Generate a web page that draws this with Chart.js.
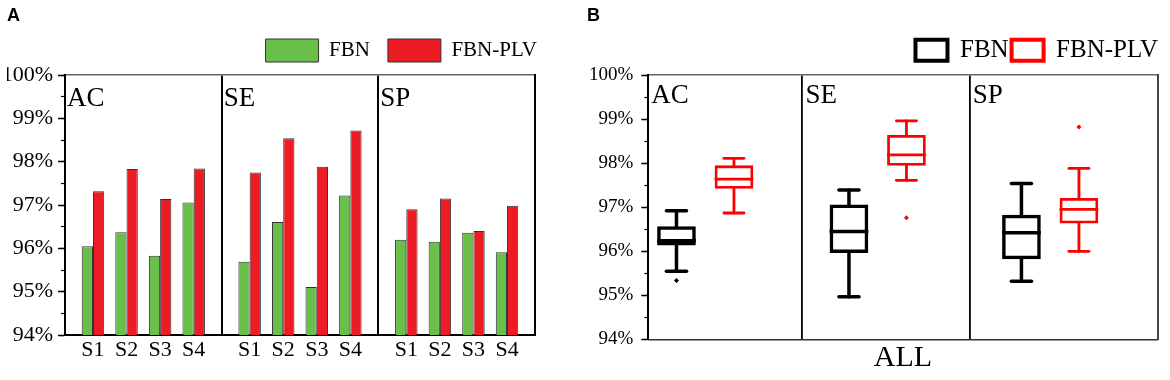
<!DOCTYPE html>
<html>
<head>
<meta charset="utf-8">
<script src="https://cdn.jsdelivr.net/npm/chart.js@4.4.0/dist/chart.umd.min.js"></script>
<style>
    html, body { margin: 0; padding: 0; background: #fff; }
    #wrap { position: relative; width: 1170px; height: 380px; }
    .panel { position: absolute; top: 0; height: 380px; }
    #panelA { left: 0; width: 580px; }
    #panelB { left: 580px; width: 590px; }
</style>
</head>
<body>
<div id="wrap">
    <div class="panel" id="panelA"><canvas id="chartA"></canvas></div>
    <div class="panel" id="panelB"><canvas id="chartB"></canvas></div>
</div>
<script>
const sections = ['AC', 'SE', 'SP'];
const sessions = ['S1', 'S2', 'S3', 'S4'];
const seriesNames = ['FBN', 'FBN-PLV'];

// A: セッション毎の精度 (%)  AC S1-S4, SE S1-S4, SP S1-S4
const fbnAcc = [96.05, 96.37, 95.83, 97.06, 95.69, 96.61, 95.11, 97.22, 96.20, 96.15, 96.36, 95.91];
const plvAcc = [97.32, 97.83, 97.14, 97.84, 97.75, 98.54, 97.88, 98.72, 96.90, 97.15, 96.40, 96.98];

// B: 箱ひげ図の要約値 (AC, SE, SP)
const fbnMin = [95.55, 94.97, 95.32];
const fbnQ1 = [96.13, 95.96, 95.82];
const fbnMedian = [96.24, 96.45, 96.42];
const fbnQ3 = [96.57, 97.06, 96.83];
const fbnMax = [96.92, 97.39, 97.54];
const fbnOutliers = [[95.34], [], []];

const plvMin = [96.87, 97.61, 96.00];
const plvQ1 = [97.42, 97.94, 96.63];
const plvMedian = [97.64, 98.19, 96.95];
const plvQ3 = [97.95, 98.64, 97.21];
const plvMax = [98.11, 98.96, 97.88];
const plvOutliers = [[], [96.76], [98.82]];

const yMin = 94;
const yMax = 100;

const main = () => {
    Chart.defaults.font.family = '"Liberation Serif", "Times New Roman", serif';
    Chart.defaults.color = '#000';
    Chart.defaults.animation = false;

    createBarChart();
    createBoxChart();
};

/**
 * 左右の縦軸 (主目盛・副目盛・右枠) を生成します。
 */
const createYAxes = (fontSize, labelPadding, leftWidth, rightWidth, rightColor) => ({
    y: {
        position: 'left',
        min: yMin,
        max: yMax,
        beginAtZero: false,
        ticks: { stepSize: 1, padding: labelPadding, color: '#000', font: { size: fontSize }, callback: (v) => v + '%' },
        grid: { drawOnChartArea: false, tickLength: 7, color: '#000', tickWidth: 1.5 },
        border: { color: '#000', width: 2 },
        afterFit: (scale) => { scale.width = leftWidth; },
    },
    yMinor: {
        position: 'left',
        weight: -1,
        min: yMin,
        max: yMax,
        beginAtZero: false,
        ticks: { display: false, stepSize: 0.5 },
        grid: { drawOnChartArea: false, tickLength: 4, color: '#000', tickWidth: 1.2 },
        border: { display: false },
        afterFit: (scale) => { scale.width = 0; },
    },
    yR: {
        position: 'right',
        beginAtZero: false,
        ticks: { display: false },
        grid: { display: false, drawTicks: false },
        border: { color: rightColor, width: 2 },
        afterFit: (scale) => { scale.width = rightWidth; },
    },
});

/**
 * 区切り線を引く上枠の軸を生成します。
 */
const createTopAxis = (min, max, edges, height, lineWidth) => ({
    type: 'linear',
    position: 'top',
    min: min,
    max: max,
    offset: false,
    afterBuildTicks: (scale) => { scale.ticks = edges.map((v) => ({ value: v })); },
    ticks: { display: false },
    grid: { offset: false, drawTicks: false, color: '#000', lineWidth: lineWidth },
    border: { color: '#666', width: 1.5 },
    afterFit: (scale) => { scale.height = height; },
});

/**
 * 区画名 (AC, SE, SP) を描画するプラグインを生成します。
 */
const createSectionLabelPlugin = (starts, dx, dy) => ({
    id: 'sectionLabels',
    afterDraw: (chart) => {
        const { ctx, chartArea } = chart;
        const x = chart.scales.x;

        ctx.save();
        ctx.font = '27px "Liberation Serif"';
        ctx.fillStyle = '#000';
        ctx.textBaseline = 'alphabetic';
        sections.forEach((name, i) => {
            ctx.fillText(name, x.getPixelForValue(starts[i]) + dx, chartArea.top + dy);
        });
        ctx.restore();
    },
});

const panelTitle = (text, bottom) => ({
    display: true,
    text: text,
    align: 'start',
    color: '#000',
    font: { family: '"Liberation Sans", Arial, sans-serif', weight: 'bold', size: 18, lineHeight: 1 },
    padding: { top: 7, bottom: bottom },
});

/**
 * A: 棒グラフの生成を行います。
 */
const createBarChart = () => {
    const span = sessions.length + 2 / 3;
    const pad = (span - (sessions.length - 1)) / 2;
    const positions = [];
    sections.forEach((s, i) => {
        sessions.forEach((n, j) => positions.push(i * span + j));
    });
    const min = -pad;
    const max = sections.length * span - pad;
    const edges = [1, 2].map((i) => i * span - pad);

    const toPoints = (values) => values.map((v, i) => ({ x: positions[i], y: v }));

    const config = {
        type: 'bar',
        data: {
            datasets: [
                {
                    label: seriesNames[0],
                    data: toPoints(fbnAcc),
                    backgroundColor: '#6abf4b',
                    borderColor: '#333',
                    borderWidth: 1,
                },
                {
                    label: seriesNames[1],
                    data: toPoints(plvAcc),
                    backgroundColor: '#ed1c24',
                    borderColor: '#333',
                    borderWidth: 1,
                },
            ],
        },
        options: {
            responsive: true,
            maintainAspectRatio: false,
            layout: { padding: { left: 7, right: 25, top: 0, bottom: 0 } },
            categoryPercentage: 0.67,
            barPercentage: 1,
            plugins: {
                title: panelTitle('A', -4),
                legend: {
                    position: 'top',
                    align: 'end',
                    labels: { boxWidth: 53, boxHeight: 23, padding: 18, color: '#000', font: { size: 21 } },
                },
                tooltip: { enabled: false },
            },
            scales: {
                x: {
                    type: 'linear',
                    position: 'bottom',
                    min: min,
                    max: max,
                    offset: false,
                    afterBuildTicks: (scale) => { scale.ticks = positions.map((v) => ({ value: v })); },
                    ticks: {
                        autoSkip: false,
                        maxRotation: 0,
                        padding: 2,
                        color: '#000',
                        font: { size: 22 },
                        callback: (v, i) => sessions[i % sessions.length],
                    },
                    grid: { display: false, drawTicks: false, offset: false },
                    border: { color: '#000', width: 2 },
                    afterFit: (scale) => { scale.height = 45; },
                },
                xT: createTopAxis(min, max, edges, 3, 2),
                ...createYAxes(22, 5, 58, 20, '#000'),
            },
        },
        plugins: [createSectionLabelPlugin([min, ...edges], 2, 31)],
    };

    return new Chart(document.getElementById('chartA'), config);
};

/**
 * B: 箱ひげ図の生成を行います。
 */
const createBoxChart = () => {
    const stride = 3;
    const min = -0.49;
    const max = 8.37;
    const edges = [2.19, 5.1];
    const positions = [];
    sections.forEach((s, i) => positions.push(i * stride, i * stride + 1));

    const boxSeries = [
        { color: '#000', lineWidth: 3.5, min: fbnMin, q1: fbnQ1, median: fbnMedian, q3: fbnQ3, max: fbnMax, outliers: fbnOutliers },
        { color: '#f00', lineWidth: 2.8, min: plvMin, q1: plvQ1, median: plvMedian, q3: plvQ3, max: plvMax, outliers: plvOutliers },
    ];

    const boxDatasets = boxSeries.map((s, k) => ({
        type: 'bar',
        label: seriesNames[k],
        data: s.q1.map((q, i) => ({ x: i * stride + k, y: [q, s.q3[i]] })),
        backgroundColor: 'rgba(0,0,0,0)',
        borderColor: s.color,
        borderWidth: s.lineWidth,
        borderSkipped: false,
        grouped: false,
        barPercentage: 0.673,
        categoryPercentage: 1,
    }));

    const outlierDatasets = boxSeries.map((s, k) => {
        const points = [];
        s.outliers.forEach((list, i) => {
            list.forEach((v) => points.push({ x: i * stride + k, y: v }));
        });
        return {
            type: 'scatter',
            label: seriesNames[k] + ' outliers',
            data: points,
            pointStyle: 'rectRot',
            radius: 2.5,
            backgroundColor: s.color,
            borderColor: s.color,
            borderWidth: 0,
        };
    });

    // ひげと中央値の描画
    const whiskerPlugin = {
        id: 'whiskers',
        afterDatasetsDraw: (chart) => {
            const { ctx } = chart;
            const y = chart.scales.y;
            const seg = (x1, y1, x2, y2) => {
                ctx.beginPath();
                ctx.moveTo(x1, y1);
                ctx.lineTo(x2, y2);
                ctx.stroke();
            };

            boxSeries.forEach((s, di) => {
                const meta = chart.getDatasetMeta(di);
                ctx.save();
                ctx.strokeStyle = s.color;
                ctx.lineWidth = s.lineWidth;
                meta.data.forEach((bar, i) => {
                    const half = bar.width / 2;
                    const cap = half * 0.52;
                    const pMin = y.getPixelForValue(s.min[i]);
                    const pMax = y.getPixelForValue(s.max[i]);

                    ctx.lineCap = 'round';
                    seg(bar.x, y.getPixelForValue(s.q3[i]), bar.x, pMax);
                    seg(bar.x - cap, pMax, bar.x + cap, pMax);
                    seg(bar.x, y.getPixelForValue(s.q1[i]), bar.x, pMin);
                    seg(bar.x - cap, pMin, bar.x + cap, pMin);

                    ctx.lineCap = 'butt';
                    const pMed = y.getPixelForValue(s.median[i]);
                    seg(bar.x - half, pMed, bar.x + half, pMed);
                });
                ctx.restore();
            });
        },
    };

    const config = {
        type: 'bar',
        data: {
            datasets: [...boxDatasets, ...outlierDatasets],
        },
        options: {
            responsive: true,
            maintainAspectRatio: false,
            layout: { padding: { left: 7, right: 9, top: 0, bottom: 0 } },
            plugins: {
                title: panelTitle('B', 9.7),
                legend: {
                    position: 'top',
                    align: 'end',
                    labels: {
                        boxWidth: 32,
                        boxHeight: 21,
                        padding: 3,
                        color: '#000',
                        font: { size: 25 },
                        generateLabels: (chart) => Chart.defaults.plugins.legend.labels.generateLabels(chart)
                            .filter((item) => item.datasetIndex < 2)
                            .map((item) => Object.assign(item, { lineWidth: 4 })),
                    },
                },
                tooltip: { enabled: false },
            },
            scales: {
                x: {
                    type: 'linear',
                    position: 'bottom',
                    min: min,
                    max: max,
                    offset: false,
                    afterBuildTicks: (scale) => { scale.ticks = positions.map((v) => ({ value: v })); },
                    ticks: { display: false },
                    grid: { display: false, drawTicks: false, offset: false },
                    border: { color: '#333', width: 1.5 },
                    title: {
                        display: true,
                        text: 'ALL',
                        color: '#000',
                        font: { size: 30 },
                        padding: { top: 0, bottom: 3.5 },
                    },
                    afterFit: (scale) => { scale.height = 40.5; },
                },
                xT: createTopAxis(min, max, edges, 2.3, 1.8),
                ...createYAxes(19, 8, 61.3, 3.3, '#444'),
            },
        },
        plugins: [whiskerPlugin, createSectionLabelPlugin([min, ...edges], 3, 28)],
    };

    return new Chart(document.getElementById('chartB'), config);
};

main();
</script>
</body>
</html>
